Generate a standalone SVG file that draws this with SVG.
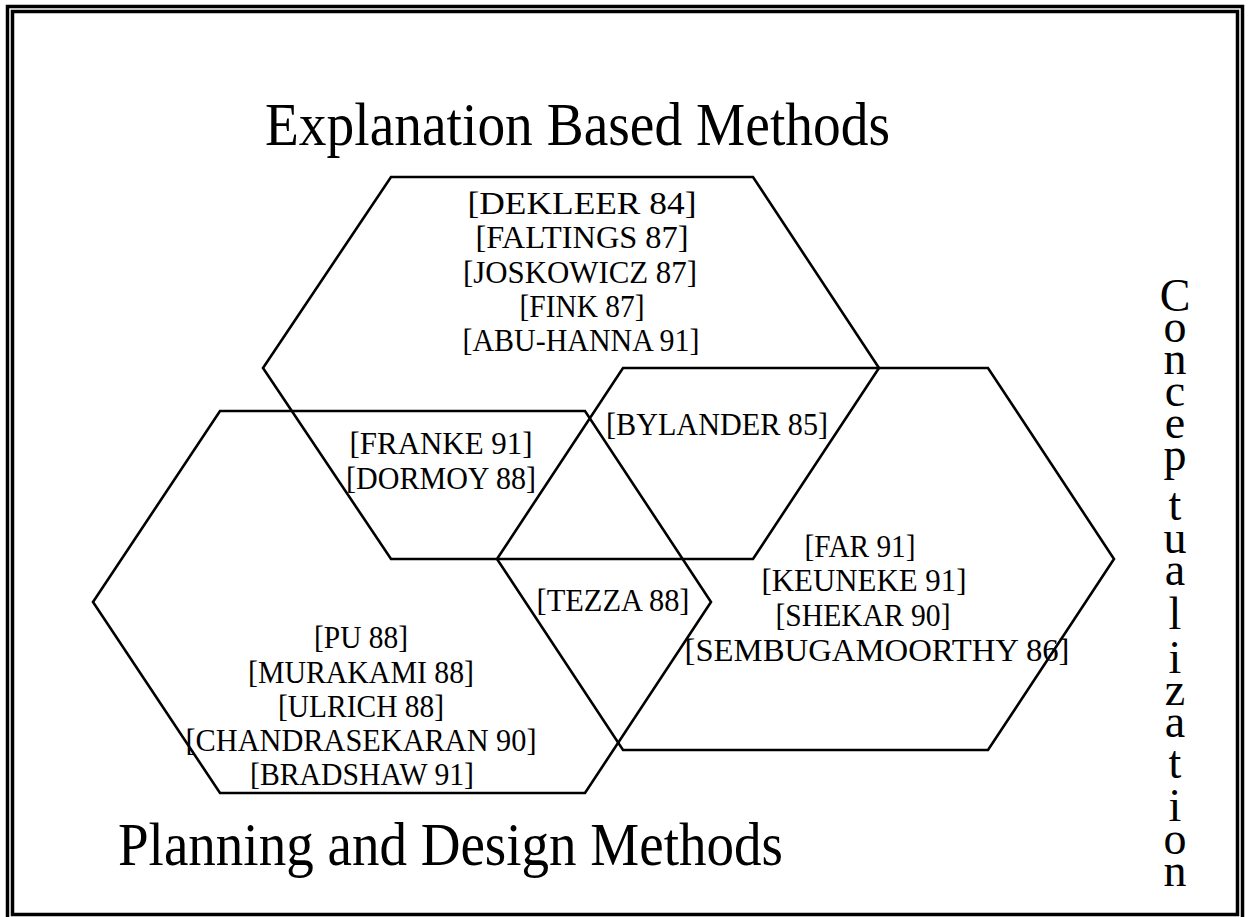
<svg xmlns="http://www.w3.org/2000/svg" width="1251" height="917" viewBox="0 0 1251 917">
<style>
.frame{fill:none;stroke:#000;stroke-width:3.5}
.hex{fill:none;stroke:#000;stroke-width:2.6;stroke-linejoin:miter}
.ref{font-family:"Liberation Serif","DejaVu Serif",serif;font-size:32px;fill:#000;text-anchor:middle}
.title{font-family:"Liberation Serif","DejaVu Serif",serif;font-size:62px;fill:#000}
.vert{font-family:"Liberation Serif","DejaVu Serif",serif;font-size:46px;fill:#000;text-anchor:middle}
</style>
<rect width="1251" height="917" fill="#fff"/>
<g id="frame">
<rect class="frame" x="7.5" y="6.5" width="1235" height="930"/>
<rect class="frame" x="12.5" y="11.5" width="1225" height="903"/>
</g>
<g id="connectors"></g>
<g id="explanation-hex">
<polygon class="hex" points="391,177 753,177 879,368 753,559 391,559 263,368"/>
<text class="title" x="265" y="145" textLength="625" lengthAdjust="spacingAndGlyphs">Explanation Based Methods</text>
<text class="ref" x="582" y="214" textLength="229" lengthAdjust="spacingAndGlyphs">[DEKLEER 84]</text>
<text class="ref" x="582" y="248" textLength="213" lengthAdjust="spacingAndGlyphs">[FALTINGS 87]</text>
<text class="ref" x="580" y="283" textLength="234" lengthAdjust="spacingAndGlyphs">[JOSKOWICZ 87]</text>
<text class="ref" x="582" y="317" textLength="125" lengthAdjust="spacingAndGlyphs">[FINK 87]</text>
<text class="ref" x="581" y="351" textLength="237" lengthAdjust="spacingAndGlyphs">[ABU-HANNA 91]</text>
</g>
<g id="planning-hex">
<polygon class="hex" points="220,411 585,411 711,602 585,793 220,793 93,602"/>
<text class="title" x="118" y="865" textLength="665" lengthAdjust="spacingAndGlyphs">Planning and Design Methods</text>
<text class="ref" x="361" y="648" textLength="94" lengthAdjust="spacingAndGlyphs">[PU 88]</text>
<text class="ref" x="361" y="683" textLength="226" lengthAdjust="spacingAndGlyphs">[MURAKAMI 88]</text>
<text class="ref" x="361" y="717" textLength="166" lengthAdjust="spacingAndGlyphs">[ULRICH 88]</text>
<text class="ref" x="361" y="751" textLength="351" lengthAdjust="spacingAndGlyphs">[CHANDRASEKARAN 90]</text>
<text class="ref" x="362" y="785" textLength="224" lengthAdjust="spacingAndGlyphs">[BRADSHAW 91]</text>
</g>
<g id="conceptualization-hex">
<polygon class="hex" points="623,368 988,368 1114,559 988,750 623,750 497,559"/>
<text class="ref" x="860" y="557" textLength="111" lengthAdjust="spacingAndGlyphs">[FAR 91]</text>
<text class="ref" x="864" y="591" textLength="205" lengthAdjust="spacingAndGlyphs">[KEUNEKE 91]</text>
<text class="ref" x="863" y="626" textLength="175" lengthAdjust="spacingAndGlyphs">[SHEKAR 90]</text>
<text class="ref" x="877" y="661" textLength="385" lengthAdjust="spacingAndGlyphs">[SEMBUGAMOORTHY 86]</text>
</g>
<g id="overlaps">
<text class="ref" x="441" y="454" textLength="183" lengthAdjust="spacingAndGlyphs">[FRANKE 91]</text>
<text class="ref" x="441" y="489" textLength="190" lengthAdjust="spacingAndGlyphs">[DORMOY 88]</text>
<text class="ref" x="717" y="435" textLength="222" lengthAdjust="spacingAndGlyphs">[BYLANDER 85]</text>
<text class="ref" x="613" y="611" textLength="153" lengthAdjust="spacingAndGlyphs">[TEZZA 88]</text>
</g>
<g id="conceptualization-label">
<text class="vert"><tspan x="1175" y="311">C</tspan><tspan x="1175" y="342">o</tspan><tspan x="1175" y="374">n</tspan><tspan x="1175" y="406">c</tspan><tspan x="1175" y="438">e</tspan><tspan x="1175" y="470">p</tspan><tspan x="1175" y="520">t</tspan><tspan x="1175" y="553">u</tspan><tspan x="1175" y="585">a</tspan><tspan x="1175" y="629">l</tspan><tspan x="1175" y="673">i</tspan><tspan x="1175" y="705">z</tspan><tspan x="1175" y="737">a</tspan><tspan x="1175" y="778">t</tspan><tspan x="1175" y="821">i</tspan><tspan x="1175" y="854">o</tspan><tspan x="1175" y="886">n</tspan></text>
</g>
</svg>
